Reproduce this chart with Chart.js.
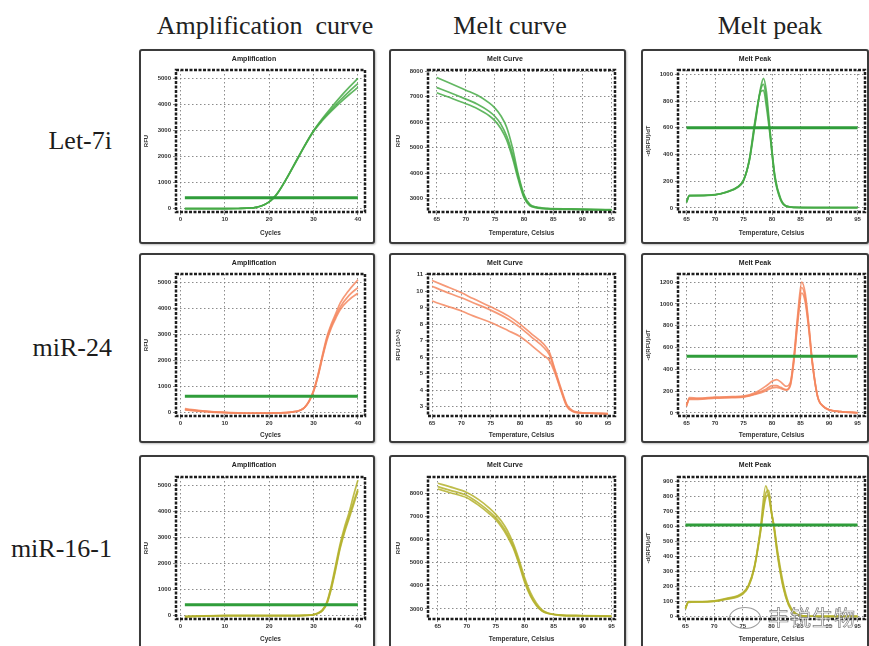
<!DOCTYPE html>
<html lang="en">
<head>
    <meta charset="UTF-8">
    <title>Amplification / Melt curve / Melt peak</title>
    <script src="https://cdn.jsdelivr.net/npm/chart.js"></script>
    <style>
        html, body { margin: 0; padding: 0; background: #fff; }
        body {
            width: 869px; height: 646px;
            position: relative; overflow: hidden;
            font-family: 'Liberation Serif', 'Times New Roman', serif;
        }
        .head {
            position: absolute; top: 13px; width: 260px;
            text-align: center; font-size: 26px; line-height: 26px;
            color: #222; white-space: pre;
        }
        .rowlab {
            position: absolute; right: 757px;
            font-size: 26px; line-height: 26px; color: #1c1c1c;
            text-align: right; white-space: nowrap;
        }
        .panel {
            position: absolute; box-sizing: border-box;
            border: 2px solid #3b3b3b; border-radius: 3px;
            background: #fff; box-shadow: 1px 1px 2px rgba(0,0,0,0.25);
        }
        .panel canvas { display: block; }
        .wm {
            position: absolute; left: 768px; top: 601px;
            font-family: 'Noto Sans CJK SC', sans-serif; font-size: 21px;
            color: rgba(255,255,255,0.8); letter-spacing: 1px;
            -webkit-text-stroke: 0.7px rgba(110,110,110,0.9);
        }
        .wm-icon {
            position: absolute; left: 729px; top: 607px; width: 30px; height: 20px;
            border: 1.5px solid rgba(130,130,130,0.8); border-radius: 50%;
        }
    </style>
</head>
<body>
    <div class="head" style="left:135px">Amplification  curve</div>
    <div class="head" style="left:380px">Melt curve</div>
    <div class="head" style="left:640px">Melt peak</div>

    <div class="rowlab" style="top:128px">Let-7i</div>
    <div class="rowlab" style="top:335px">miR-24</div>
    <div class="rowlab" style="top:536px">miR-16-1</div>

    <div class="panel" id="p11" style="left:139px;top:49px;width:236px;height:195px"></div>
    <div class="panel" id="p12" style="left:389px;top:49px;width:237px;height:195px"></div>
    <div class="panel" id="p13" style="left:641px;top:49px;width:228px;height:195px"></div>
    <div class="panel" id="p21" style="left:139px;top:253px;width:236px;height:190px"></div>
    <div class="panel" id="p22" style="left:389px;top:253px;width:237px;height:190px"></div>
    <div class="panel" id="p23" style="left:641px;top:253px;width:228px;height:190px"></div>
    <div class="panel" id="p31" style="left:139px;top:455px;width:236px;height:196px"></div>
    <div class="panel" id="p32" style="left:389px;top:455px;width:237px;height:196px"></div>
    <div class="panel" id="p33" style="left:641px;top:455px;width:228px;height:196px"></div>

    <div class="wm-icon"></div>
    <div class="wm">丰锐生物</div>

<script>
// ---- tick labels ----
const ampXTicks = [0, 10, 20, 30, 40];
const ampYTicks = [0, 1000, 2000, 3000, 4000, 5000];
const tempTicks = [65, 70, 75, 80, 85, 90, 95];
const meltYTicksRFU = [3000, 4000, 5000, 6000, 7000, 8000];
const meltYTicks1e3 = [3, 4, 5, 6, 7, 8, 9, 10, 11];
const peakYTicksLet7i = [0, 200, 400, 600, 800, 1000];
const peakYTicksMiR24 = [0, 200, 400, 600, 800, 1000, 1200];
const peakYTicksMiR16 = [0, 100, 200, 300, 400, 500, 600, 700, 800, 900];

// ---- Let-7i ----
const cyclesLet7i = [1, 4, 7, 10, 13, 16, 17, 18, 19, 20, 21, 22, 24, 26, 28, 30, 32, 34, 36, 38, 40];
const ampLet7i_1 = [0, 0, 0, 0, 5, 25, 50, 90, 160, 260, 410, 620, 1180, 1800, 2420, 2990, 3460, 3880, 4280, 4650, 5000];
const ampLet7i_2 = [0, 0, 0, 0, 5, 25, 50, 90, 160, 260, 410, 620, 1180, 1800, 2420, 2980, 3420, 3800, 4160, 4490, 4800];
const ampLet7i_3 = [0, 0, 0, 0, 5, 25, 50, 90, 160, 260, 410, 615, 1170, 1780, 2400, 2960, 3380, 3740, 4070, 4370, 4650];
const thrAmpLet7i = 420;

const tempMeltLet7i = [65, 67, 70, 72, 74, 75, 76, 77, 78, 79, 80, 81, 82, 84, 88, 92, 95];
const meltLet7i_1 = [7750, 7550, 7250, 7050, 6750, 6550, 6250, 5800, 5000, 3950, 3150, 2780, 2680, 2620, 2600, 2580, 2570];
const meltLet7i_2 = [7350, 7180, 6900, 6700, 6420, 6220, 5920, 5450, 4750, 3850, 3080, 2750, 2660, 2610, 2590, 2570, 2560];
const meltLet7i_3 = [7150, 6980, 6720, 6520, 6250, 6050, 5750, 5300, 4600, 3750, 3030, 2720, 2650, 2600, 2580, 2565, 2555];

const tempPeakLet7i = [65, 65.5, 67, 70, 72, 74, 75, 76, 77, 78, 78.5, 79, 79.6, 80.5, 81.5, 82.5, 84, 88, 95];
const peakLet7i_1 = [40, 95, 95, 100, 120, 160, 210, 350, 620, 900, 970, 870, 600, 240, 70, 15, 5, 3, 2];
const peakLet7i_2 = [50, 90, 92, 98, 118, 155, 205, 360, 650, 870, 880, 760, 560, 220, 60, 12, 4, 3, 2];
const peakLet7i_3 = [45, 92, 93, 99, 119, 158, 208, 355, 635, 885, 925, 815, 580, 230, 65, 14, 5, 3, 2];
const thrPeakLet7i = 600;

// ---- miR-24 ----
const cyclesMiR24 = [1, 4, 7, 10, 13, 16, 19, 22, 25, 27, 28, 29, 30, 31, 32, 33, 34, 35, 36, 38, 40];
const ampMiR24_1 = [150, 90, 40, 10, -10, -20, -20, -10, 20, 90, 200, 450, 850, 1450, 2200, 2900, 3400, 3800, 4200, 4700, 5100];
const ampMiR24_2 = [120, 70, 30, 5, -15, -25, -20, -10, 20, 90, 200, 440, 830, 1420, 2150, 2830, 3320, 3700, 4050, 4500, 4800];
const ampMiR24_3 = [100, 60, 20, 0, -20, -25, -20, -10, 20, 90, 200, 420, 800, 1380, 2100, 2760, 3250, 3620, 3950, 4330, 4580];
const thrAmpMiR24 = 630;

const tempMeltMiR24 = [65, 67, 70, 72, 75, 78, 80, 82, 84, 85, 86, 87, 88, 89, 90, 92, 95];
const meltMiR24_1 = [10.65, 10.35, 9.9, 9.55, 9.05, 8.5, 8.0, 7.4, 6.8, 6.3, 5.2, 4.1, 3.1, 2.75, 2.65, 2.6, 2.58];
const meltMiR24_2 = [10.3, 10.0, 9.6, 9.3, 8.85, 8.3, 7.8, 7.2, 6.6, 6.15, 5.1, 4.0, 3.05, 2.72, 2.64, 2.6, 2.57];
const meltMiR24_3 = [9.4, 9.15, 8.8, 8.5, 8.1, 7.6, 7.25, 6.7, 6.1, 5.8, 5.0, 3.95, 3.0, 2.7, 2.62, 2.6, 2.56];

const tempPeakMiR24 = [65, 65.5, 67, 70, 73, 75, 77, 79, 80, 80.8, 81.5, 82.5, 83.2, 83.8, 84.5, 85.2, 85.8, 86.5, 87, 88, 89, 90, 92, 95];
const peakMiR24_1 = [60, 140, 135, 145, 150, 155, 185, 250, 290, 305, 285, 245, 280, 500, 900, 1200, 1100, 780, 500, 150, 60, 30, 12, 2];
const peakMiR24_2 = [70, 130, 130, 140, 145, 150, 175, 220, 250, 250, 235, 215, 260, 480, 860, 1150, 1060, 760, 490, 150, 60, 30, 12, 2];
const peakMiR24_3 = [80, 125, 125, 135, 140, 145, 170, 205, 230, 235, 225, 210, 250, 460, 830, 1100, 1020, 740, 480, 145, 58, 28, 12, 2];
const thrPeakMiR24 = 520;

// ---- miR-16-1 ----
const cyclesMiR16 = [1, 5, 10, 15, 20, 25, 28, 30, 31, 32, 33, 34, 35, 36, 37, 38, 39, 40];
const ampMiR16_1 = [-50, -20, 0, 0, 0, 0, 10, 40, 100, 220, 520, 1150, 1950, 2750, 3400, 3950, 4600, 5200];
const ampMiR16_2 = [-40, -20, 0, 0, 0, 0, 10, 40, 90, 200, 480, 1080, 1850, 2650, 3280, 3800, 4350, 4850];
const ampMiR16_3 = [-30, -10, 0, 0, 0, 0, 10, 30, 80, 190, 450, 1020, 1780, 2580, 3200, 3720, 4250, 4780];
const thrAmpMiR16 = 420;

const tempMeltMiR16 = [65, 67, 70, 72, 74, 75, 76, 77, 78, 79, 80, 81, 82, 83, 84, 86, 90, 95];
const meltMiR16_1 = [8450, 8300, 8050, 7750, 7350, 7100, 6800, 6400, 5850, 5150, 4350, 3700, 3250, 2950, 2820, 2740, 2710, 2690];
const meltMiR16_2 = [8300, 8150, 7920, 7600, 7200, 6960, 6650, 6250, 5730, 5030, 4230, 3600, 3180, 2920, 2810, 2730, 2700, 2680];
const meltMiR16_3 = [8200, 8050, 7820, 7500, 7100, 6870, 6550, 6150, 5650, 4950, 4150, 3550, 3150, 2900, 2800, 2720, 2690, 2670];

const tempPeakMiR16 = [65, 65.5, 67, 70, 72, 75, 76, 77, 78, 79, 79.5, 80, 80.5, 81, 82, 83, 84, 85, 88, 95];
const peakMiR16_1 = [50, 100, 100, 105, 120, 160, 210, 330, 560, 870, 800, 690, 590, 450, 230, 90, 30, 10, 3, 2];
const peakMiR16_2 = [60, 95, 98, 102, 115, 150, 200, 320, 540, 820, 840, 700, 580, 430, 210, 80, 25, 8, 3, 2];
const peakMiR16_3 = [55, 98, 99, 103, 118, 155, 205, 325, 550, 790, 810, 690, 570, 420, 200, 75, 20, 8, 3, 2];
const thrPeakMiR16 = 610;

// colours per target
const GREEN = 'rgba(70,170,70,0.85)';
const ORANGE = 'rgba(245,135,95,0.85)';
const OLIVE = 'rgba(180,178,45,0.85)';
const THR = '#2f9d3a';

// dotted black frame around the plot area
const framePlugin = {
    id: 'frame',
    afterDraw(chart) {
        const { ctx, chartArea: a } = chart;
        ctx.save();
        ctx.strokeStyle = '#1e1e1e';
        ctx.lineWidth = 2.5;
        ctx.setLineDash([3, 1.5]);
        ctx.strokeRect(a.left, a.top, a.right - a.left, a.bottom - a.top);
        ctx.restore();
    }
};

const small = { family: 'Liberation Sans, Arial, sans-serif', size: 6, weight: 'bold' };

function makePanel(id, p) {
    const el = document.getElementById(id);
    const cv = document.createElement('canvas');
    cv.width = el.clientWidth;
    cv.height = el.clientHeight;
    el.appendChild(cv);

    const datasets = [];
    if (p.thr !== undefined) {
        const x0 = p.x[0], x1 = p.x[p.x.length - 1];
        datasets.push({
            data: [{ x: x0, y: p.thr }, { x: x1, y: p.thr }],
            borderColor: THR, borderWidth: 3, pointRadius: 0, showLine: true
        });
    }
    p.series.forEach(ys => {
        datasets.push({
            data: p.x.map((x, i) => ({ x: x, y: ys[i] })),
            borderColor: p.color, borderWidth: 1.7, pointRadius: 0,
            showLine: true, cubicInterpolationMode: 'monotone'
        });
    });

    const gridOpts = { color: 'rgba(120,120,120,0.85)', lineWidth: 1, tickLength: 3 };
    const borderOpts = { display: false, dash: [1.5, 2.5] };

    new Chart(cv, {
        type: 'scatter',
        data: { datasets },
        options: {
            responsive: false,
            animation: false,
            layout: { padding: { left: p.padL, right: p.padR, top: 0, bottom: 0 } },
            plugins: {
                legend: { display: false },
                tooltip: { enabled: false },
                title: {
                    display: true, text: p.title, color: '#222',
                    font: { family: small.family, size: 7, weight: 'bold' },
                    padding: { top: 4, bottom: p.titlePadB }
                }
            },
            scales: {
                x: {
                    type: 'linear', min: p.xMin, max: p.xMax,
                    afterBuildTicks: s => { s.ticks = p.xTicks.map(v => ({ value: v })); },
                    afterFit: s => { s.height = p.xAxisH; },
                    ticks: { font: small, color: '#333', padding: 1, maxRotation: 0, callback: v => String(v) },
                    grid: gridOpts, border: borderOpts,
                    title: { display: true, text: p.xTitle, color: '#333',
                             font: { family: small.family, size: 6.5, weight: 'bold' },
                             padding: { top: 0, bottom: p.xTitlePadB } }
                },
                y: {
                    min: p.yMin, max: p.yMax,
                    afterBuildTicks: s => { s.ticks = p.yTicks.map(v => ({ value: v })); },
                    afterFit: s => { s.width = 33; },
                    ticks: { font: small, color: '#333', padding: 2, callback: v => String(v) },
                    grid: gridOpts, border: borderOpts,
                    title: { display: true, text: p.yTitle, color: '#333',
                             font: { family: small.family, size: 6, weight: 'bold' },
                             padding: { top: 0, bottom: 2 } }
                }
            }
        },
        plugins: [framePlugin]
    });
}

// row geometry (plot top / x axis height / title paddings)
const rowGeom = [
    { titlePadB: 6.6, xAxisH: 30, xTitlePadB: 5 },
    { titlePadB: 6.6, xAxisH: 25, xTitlePadB: 2 },
    { titlePadB: 7.6, xAxisH: 30, xTitlePadB: 6 }
];
const colGeom = [
    { padL: 2, padR: 8 },
    { padL: 4, padR: 9 },
    { padL: 2, padR: 2 }
];

function amp(id, r, x, series, color, thr) {
    makePanel(id, Object.assign({
        title: 'Amplification', xTitle: 'Cycles', yTitle: 'RFU',
        x, series, color, thr,
        xMin: -1, xMax: 41.6, xTicks: ampXTicks,
        yMin: -130, yMax: 5320, yTicks: ampYTicks
    }, rowGeom[r], colGeom[0]));
}
function melt(id, r, x, series, color, yTitle, yMin, yMax, yTicks, xMin, xMax) {
    makePanel(id, Object.assign({
        title: 'Melt Curve', xTitle: 'Temperature, Celsius', yTitle,
        x, series, color,
        xMin, xMax, xTicks: tempTicks, yMin, yMax, yTicks
    }, rowGeom[r], colGeom[1]));
}
function peak(id, r, x, series, color, thr, yMin, yMax, yTicks, xMin, xMax) {
    makePanel(id, Object.assign({
        title: 'Melt Peak', xTitle: 'Temperature, Celsius', yTitle: '-d(RFU)/dT',
        x, series, color, thr,
        xMin, xMax, xTicks: tempTicks, yMin, yMax, yTicks
    }, rowGeom[r], colGeom[2]));
}

amp('p11', 0, cyclesLet7i, [ampLet7i_1, ampLet7i_2, ampLet7i_3], GREEN, thrAmpLet7i);
amp('p21', 1, cyclesMiR24, [ampMiR24_1, ampMiR24_2, ampMiR24_3], ORANGE, thrAmpMiR24);
amp('p31', 2, cyclesMiR16, [ampMiR16_1, ampMiR16_2, ampMiR16_3], OLIVE, thrAmpMiR16);

melt('p12', 0, tempMeltLet7i, [meltLet7i_1, meltLet7i_2, meltLet7i_3], GREEN, 'RFU', 2480, 8040, meltYTicksRFU, 63.5, 95.6);
melt('p22', 1, tempMeltMiR24, [meltMiR24_1, meltMiR24_2, meltMiR24_3], ORANGE, 'RFU (10^3)', 2.43, 11.04, meltYTicks1e3, 64.3, 96.2);
melt('p32', 2, tempMeltMiR16, [meltMiR16_1, meltMiR16_2, meltMiR16_3], OLIVE, 'RFU', 2560, 8720, meltYTicksRFU, 63.3, 95.6);

peak('p13', 0, tempPeakLet7i, [peakLet7i_1, peakLet7i_2, peakLet7i_3], GREEN, thrPeakLet7i, -30, 1032, peakYTicksLet7i, 63.5, 96.3);
peak('p23', 1, tempPeakMiR24, [peakMiR24_1, peakMiR24_2, peakMiR24_3], ORANGE, thrPeakMiR24, -28, 1274, peakYTicksMiR24, 63.5, 96.3);
peak('p33', 2, tempPeakMiR16, [peakMiR16_1, peakMiR16_2, peakMiR16_3], OLIVE, thrPeakMiR16, -15, 928, peakYTicksMiR16, 63.7, 96.3);
</script>
</body>
</html>
